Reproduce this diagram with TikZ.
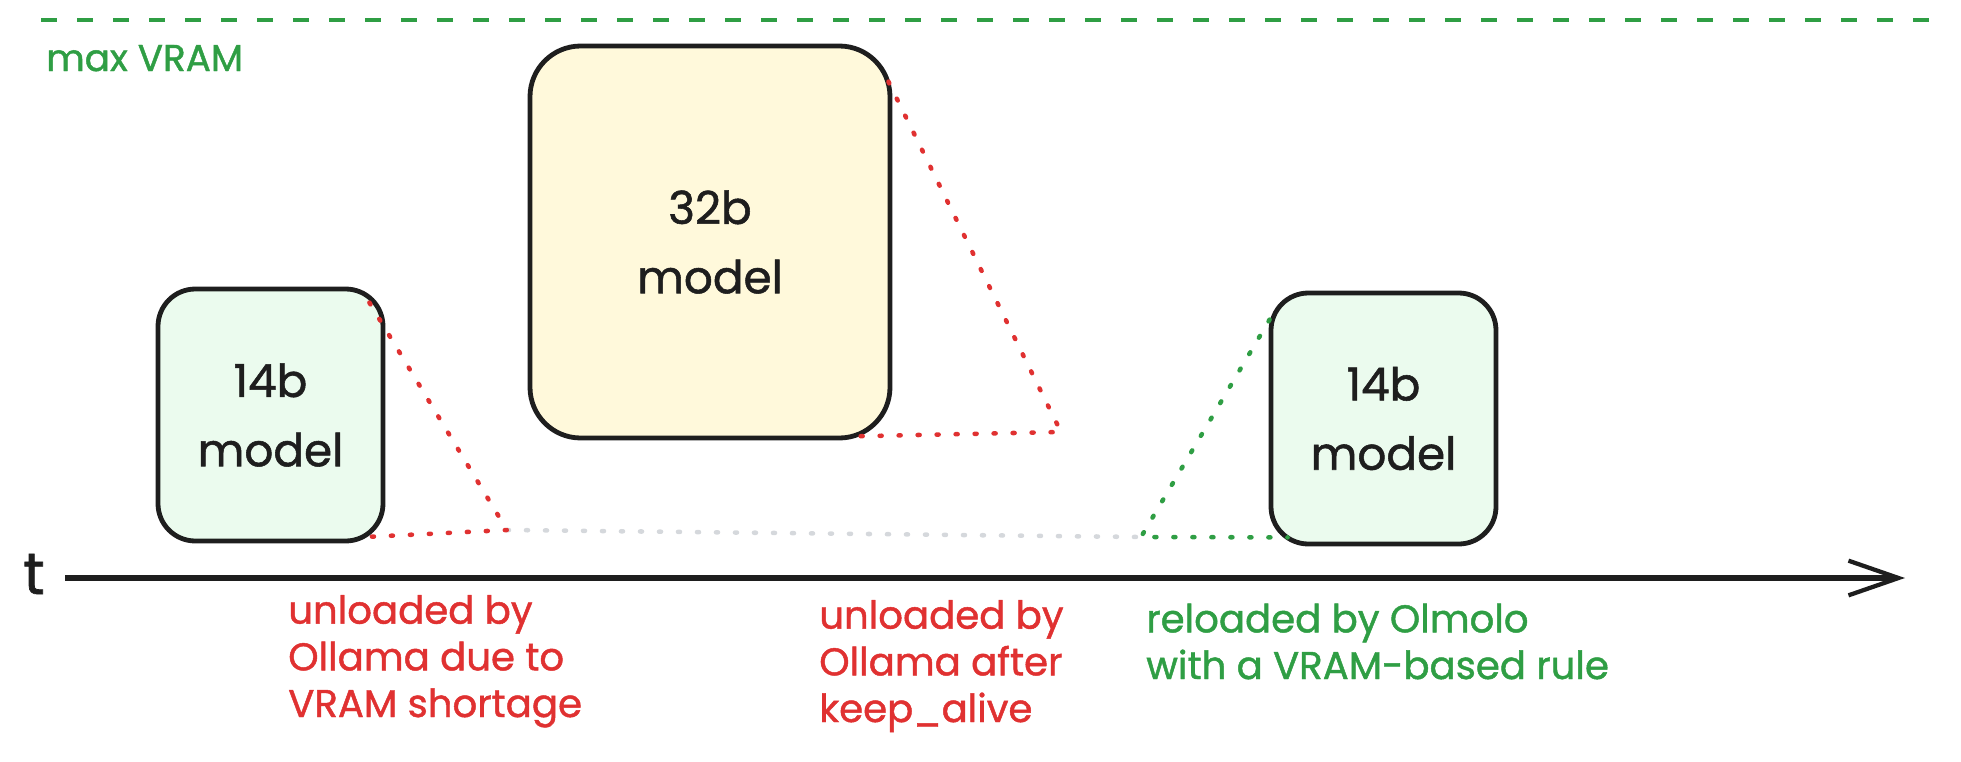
\documentclass[tikz,border=0pt]{standalone}
\usepackage{fontspec}
\setmainfont{Poppins}[FakeBold=1.2]
\usetikzlibrary{arrows.meta,calc}
\definecolor{ink}{HTML}{1E1E1E}
\definecolor{exred}{HTML}{E03131}
\definecolor{exgreen}{HTML}{2F9E44}
\definecolor{fillgreen}{HTML}{EBFBEE}
\definecolor{fillyellow}{HTML}{FFF9DB}
\definecolor{dotgray}{HTML}{D5D8DC}
\begin{document}
\begin{tikzpicture}[x=0.75pt,y=-0.75pt,
  modelbox/.style={draw=ink, line width=3.6pt, align=center, text=ink,
    font=\fontsize{34}{52}\selectfont, inner sep=0pt},
  lbl/.style={align=left, anchor=base west, inner sep=0pt,
    font=\fontsize{29}{35}\selectfont},
  dotline/.style={line width=3.4pt, line cap=round, dash pattern=on 1.5pt off 12.75pt},
  reddot/.style={dotline, draw=exred},
  greendot/.style={dotline, draw=exgreen},
  graydot/.style={dotline, draw=dotgray},
  vramline/.style={draw=exgreen, line width=3pt, dash pattern=on 12pt off 15pt},
  axis/.style={draw=ink, line width=5pt,
    -{Straight Barb[length=37.5pt, width=26pt, line width=3.2pt]}}
]
\useasboundingbox (0,0) rectangle (1961,761);

% max VRAM line
\coordinate (v0) at (41,20);
\coordinate (v1) at (1935,20);
\draw[vramline] (v0) -- (v1);
\node[anchor=base west, inner sep=0pt, text=exgreen,
  font=\fontsize{28}{32}\selectfont] (maxv) at (46,71) {max VRAM};

% model boxes
\node[modelbox, fill=fillgreen, rounded corners=28pt,
  minimum width=168.75pt, minimum height=189pt] (m14a) at (270.5,415) {14b\\model};
\node[modelbox, fill=fillyellow, rounded corners=38pt,
  minimum width=270pt, minimum height=294pt] (m32) at (710,242) {32b\\model};
\node[modelbox, fill=fillgreen, rounded corners=28pt,
  minimum width=168.75pt, minimum height=188.25pt] (m14b) at (1383.5,418.5) {14b\\model};

% apex coordinates
\coordinate (a1) at (507,530);
\coordinate (a2) at (1141,537);
\coordinate (a3) at (1061,432);

% dotted connectors
\draw[graydot] (a1) -- (a2);
\draw[reddot] ($(m14a.north east)+(-16,16)$) -- (a1) -- ($(m14a.south east)+(-28,-6)$);
\draw[reddot] ($(m32.north east)+(-4,38)$) -- (a3) -- ($(m32.south east)+(-42,-4)$);
\draw[greendot] ($(m14b.north west)+(1,29)$) -- (a2) -- ($(m14b.south west)+(19,-9)$);

% time axis
\node[inner sep=0pt, text=ink, font=\fontsize{44}{48}\selectfont] (tlab) at (34,574) {t};
\coordinate (t0) at (65,578);
\coordinate (t1) at (1905,578);
\draw[axis] (t0) -- (t1);

% labels (base anchor = last line's baseline)
\node[lbl, text=exred] (l1) at (288,717) {unloaded by\\Ollama due to\\VRAM shortage};
\node[lbl, text=exred] (l2) at (819,722) {unloaded by\\Ollama after\\keep\_alive};
\node[lbl, text=exgreen] (l3) at (1146,679) {reloaded by Olmolo\\with a VRAM-based rule};
\end{tikzpicture}
\end{document}
